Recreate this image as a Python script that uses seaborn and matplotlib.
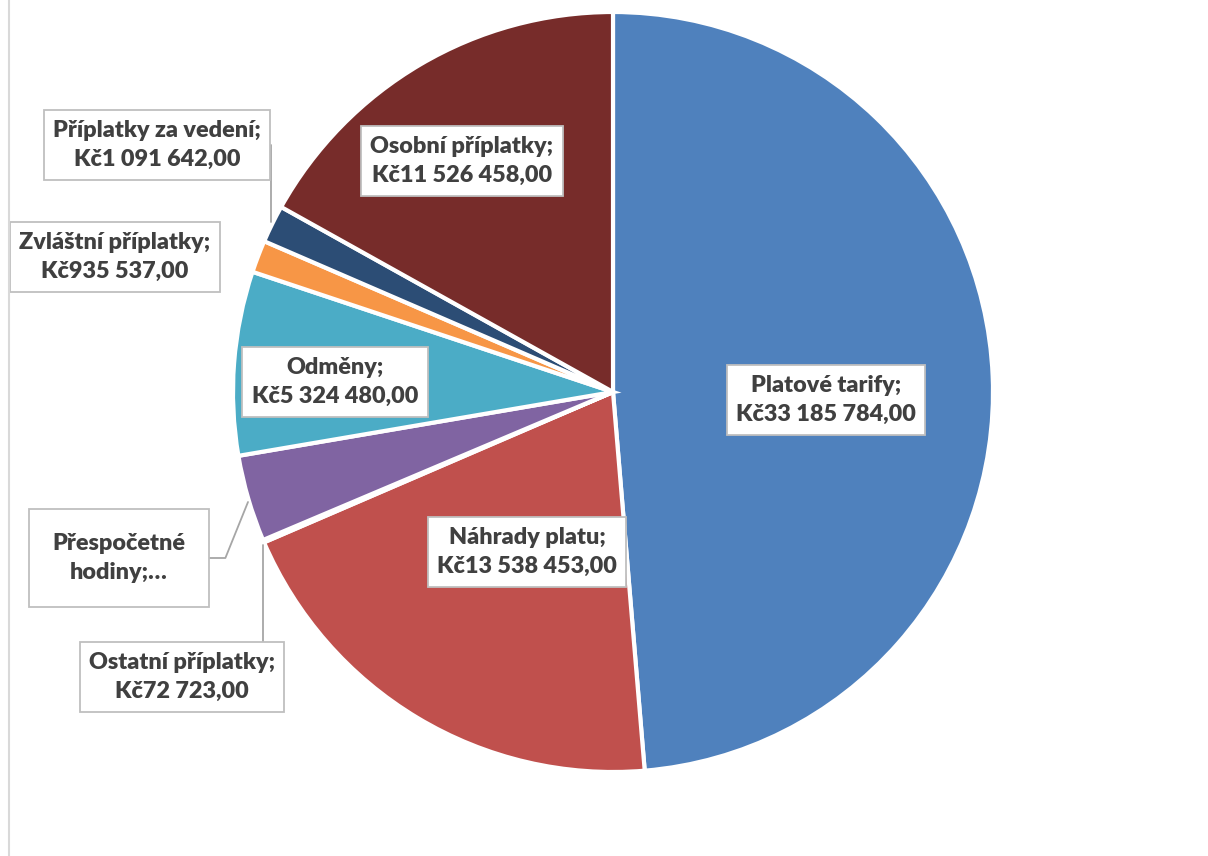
import seaborn as sns
sns.set_theme(style="white")
import matplotlib.pyplot as plt
from matplotlib.lines import Line2D

plt.rcParams['font.family'] = ['Lato', 'DejaVu Sans']

# data
categories = ['Platové tarify', 'Náhrady platu', 'Ostatní příplatky', 'Přespočetné hodiny',
              'Odměny', 'Zvláštní příplatky', 'Příplatky za vedení', 'Osobní příplatky']
values = [33185784, 13538453, 72723, 2510000, 5324480, 935537, 1091642, 11526458]
label_texts = ['Platové tarify;\nKč33 185 784,00', 'Náhrady platu;\nKč13 538 453,00',
               'Ostatní příplatky;\nKč72 723,00', 'Přespočetné\nhodiny;…',
               'Odměny;\nKč5 324 480,00', 'Zvláštní příplatky;\nKč935 537,00',
               'Příplatky za vedení;\nKč1 091 642,00', 'Osobní příplatky;\nKč11 526 458,00']
colors = ['#4F81BD', '#C0504D', '#9BBB59', '#8064A2', '#4BACC6', '#F79646', '#2C4D75', '#772C2A']
colors = sns.color_palette(colors)

# label box centres in pixels (x, y from top), and leader line anchor / style
W, H = 1208, 856
cx, cy, R = 613, 392, 380
label_pos = [(826, 400), (527, 552), (182, 677), (119, 558),
             (335, 382), (115, 257), (157, 145), (462, 161)]
leaders = {2: ((263, 545), "angle,angleA=0,angleB=90,rad=0"),
           3: ((248, 502), "angle,angleA=0,angleB=68,rad=0"),
           6: ((271, 222), "angle,angleA=0,angleB=90,rad=0")}
box_pad = [0.4, 0.4, 0.4, 1.0, 0.4, 0.4, 0.4, 0.4]


def to_data(p):
    return ((p[0] - cx) / R, (cy - p[1]) / R)


fig = plt.figure(figsize=(W / 100, H / 100), dpi=100)
ax = fig.add_axes([0, 0, 1, 1])
ax.pie(values, colors=colors, startangle=90, counterclock=False, radius=1,
       wedgeprops=dict(edgecolor='white', linewidth=3))
ax.set_aspect('auto')
ax.set_xlim((0 - cx) / R, (W - cx) / R)
ax.set_ylim((cy - H) / R, cy / R)
ax.axis('off')

txt_kw = dict(ha='center', va='center', fontsize=16.8, fontweight='heavy',
              color='#404040', linespacing=1.5)
for i, txt in enumerate(label_texts):
    pos = to_data(label_pos[i])
    bbox = dict(boxstyle='square,pad=%s' % box_pad[i], fc='white', ec='#bfbfbf', lw=1.3)
    if i in leaders:
        xy, cs = leaders[i]
        ax.annotate(txt, xy=to_data(xy), xytext=pos, bbox=bbox,
                    arrowprops=dict(arrowstyle='-', color='#a6a6a6', lw=1.3,
                                    connectionstyle=cs, shrinkA=0, shrinkB=0),
                    **txt_kw)
    else:
        ax.text(pos[0], pos[1], txt, bbox=bbox, **txt_kw)

fig.add_artist(Line2D([8.5 / W, 8.5 / W], [0, 1], color='#d9d9d9', lw=1.5))

plt.savefig('out.png', dpi=100)
